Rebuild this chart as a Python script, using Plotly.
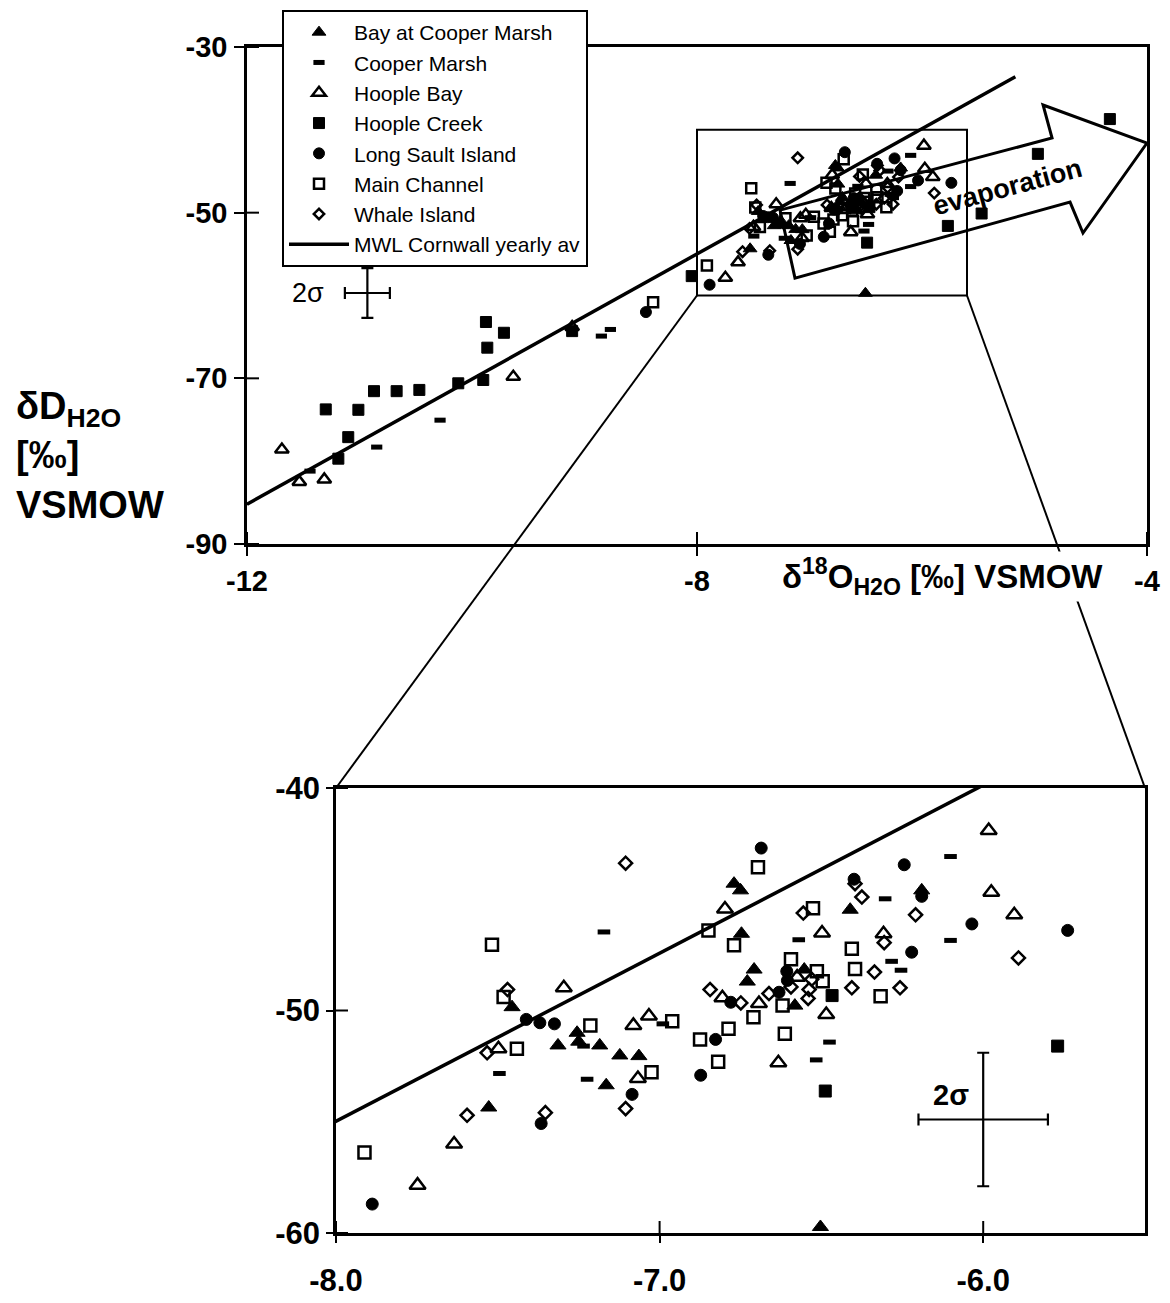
import plotly.graph_objects as go

# ---------------------------------------------------------------
# Stable isotope composition of water samples (permil, VSMOW)
# x = delta 18O, y = delta D
# ---------------------------------------------------------------
bay_cooper_x = [-6.77, -6.75, -6.747, -7.456, -7.255, -7.25, -7.314, -7.185, -7.123, -7.064,
                -7.165, -7.528, -6.411, -6.19, -6.708, -6.729, -6.553, -6.582, -6.503]
bay_cooper_y = [-44.3, -44.6, -46.55, -49.85, -51.0, -51.4, -51.57, -51.57, -52.02, -52.05,
                -53.36, -54.36, -45.47, -44.6, -48.16, -48.7, -48.16, -49.78, -59.73]

cooper_marsh_x = [-11.44, -10.847, -10.284, -8.85, -8.77, -7.172, -7.235, -6.99, -7.495, -7.224,
                  -6.57, -6.303, -6.101, -6.101, -6.283, -6.254, -6.475, -6.516]
cooper_marsh_y = [-81.2, -78.3, -75.05, -64.9, -64.1, -46.47, -51.6, -50.6, -52.83, -53.09,
                  -46.82, -44.98, -43.08, -46.85, -47.79, -48.19, -51.42, -52.22]

hoople_bay_x = [-11.69, -11.535, -11.313, -9.633, -9.11, -6.798, -7.296, -7.081, -7.033, -7.498,
                -7.067, -7.635, -7.748, -6.806, -6.498, -5.983, -5.975, -5.904, -6.308, -6.485,
                -6.633, -6.693, -6.575]
hoople_bay_y = [-78.6, -82.5, -82.2, -69.8, -63.8, -45.44, -48.98, -50.67, -50.25, -51.72,
                -53.06, -56.0, -57.85, -49.43, -46.52, -41.91, -44.69, -45.7, -46.55, -50.18,
                -52.35, -49.69, -48.5]

hoople_creek_x = [-11.188, -11.10, -11.30, -11.01, -10.871, -10.67, -10.468, -10.122, -9.9, -9.876,
                  -9.716, -9.864, -9.11, -8.047, -5.47, -4.97, -4.33, -6.467, -6.488, -5.77]
hoople_creek_y = [-79.7, -77.1, -73.75, -73.8, -71.55, -71.55, -71.4, -70.6, -70.2, -63.2,
                  -64.5, -66.3, -64.3, -57.66, -50.1, -42.9, -38.7, -49.33, -53.62, -51.6]

long_sault_x = [-8.454, -7.412, -7.37, -7.325, -7.085, -7.366, -7.888, -6.827, -6.873, -6.78,
                -6.686, -6.399, -6.19, -6.244, -6.035, -5.739, -6.221, -6.607, -6.605, -6.631]
long_sault_y = [-62.0, -50.4, -50.55, -50.6, -53.77, -55.08, -58.7, -51.3, -52.91, -49.63,
                -42.7, -44.1, -44.87, -43.45, -46.11, -46.4, -47.38, -48.24, -48.65, -49.18]

main_channel_x = [-8.39, -6.849, -6.77, -7.518, -7.482, -7.214, -6.961, -7.441, -7.025, -7.912,
                  -6.875, -6.787, -6.819, -6.71, -6.696, -6.526, -6.406, -6.396, -6.317, -6.613,
                  -6.594, -6.514, -6.496, -6.62]
main_channel_y = [-60.8, -46.4, -47.07, -47.04, -49.39, -50.67, -50.48, -51.72, -52.77, -56.38,
                  -51.3, -50.82, -52.3, -50.3, -43.56, -45.4, -47.23, -48.13, -49.36, -51.05,
                  -47.7, -48.24, -48.69, -49.78]

whale_x = [-7.105, -7.47, -7.533, -7.105, -7.353, -7.595, -6.844, -6.749, -6.556, -6.396,
           -6.375, -6.209, -5.891, -6.306, -6.257, -6.336, -6.406, -6.53, -6.594, -6.538,
           -6.541, -6.662]
whale_y = [-43.38, -49.06, -51.9, -54.41, -54.59, -54.71, -49.06, -49.66, -45.62, -44.3,
           -44.9, -45.7, -47.64, -46.95, -48.98, -48.27, -48.98, -48.6, -48.94, -49.06,
           -49.46, -49.24]

# Meteoric water line, Cornwall yearly average (end points)
mwl_x = [-12.0, -5.17]
mwl_y = [-85.2, -33.6]

# analytical uncertainty (2 sigma)
sigma_o18 = 0.2
sigma_d = 3.0

# axis ticks
top_xticks = [-12, -8, -4]
top_xtext = ["-12", "-8", "-4"]
top_yticks = [-90, -70, -50, -30]
top_ytext = ["-90", "-70", "-50", "-30"]
bot_xticks = [-8.0, -7.0, -6.0]
bot_xtext = ["-8.0", "-7.0", "-6.0"]
bot_yticks = [-60, -50, -40]
bot_ytext = ["-60", "-50", "-40"]

# ---------------------------------------------------------------
W, H = 1170, 1303
FONT = "Liberation Sans, Arial, Helvetica, sans-serif"

TOP_XDOM = [247 / W, 1147 / W]
TOP_YDOM = [1 - 544 / H, 1 - 47 / H]
BOT_XDOM = [336 / W, 1145 / W]
BOT_YDOM = [1 - 1233 / H, 1 - 788 / H]
TOP_XR, TOP_YR = [-12, -4], [-90, -30]
BOT_XR, BOT_YR = [-8, -5.5], [-60, -40]
ZOOM_X, ZOOM_Y = [-8.0, -5.6], [-60, -40]

series = [
    ("Bay at Cooper Marsh", bay_cooper_x, bay_cooper_y, "triangle-up", 12, 14),
    ("Cooper Marsh", cooper_marsh_x, cooper_marsh_y, "line-ew", 8, 9),
    ("Hoople Bay", hoople_bay_x, hoople_bay_y, "triangle-up-open", 12, 14),
    ("Hoople Creek", hoople_creek_x, hoople_creek_y, "square", 11, 12),
    ("Long Sault Island", long_sault_x, long_sault_y, "circle", 11, 12),
    ("Main Channel", main_channel_x, main_channel_y, "square-open", 10, 12),
    ("Whale Island", whale_x, whale_y, "diamond-open", 8, 10),
]


def marker_style(symbol, size):
    if symbol == "line-ew":
        return dict(symbol=symbol, size=size, color="black",
                    line=dict(color="black", width=5))
    if symbol.endswith("-open"):
        return dict(symbol=symbol, size=size, color="black",
                    line=dict(color="black", width=2.5))
    return dict(symbol=symbol, size=size, color="black",
                line=dict(color="black", width=1))


fig = go.Figure()

for name, xs, ys, sym, s_top, s_bot in series:
    fig.add_trace(go.Scatter(x=xs, y=ys, mode="markers", name=name, legendgroup=name,
                             marker=marker_style(sym, s_top), xaxis="x", yaxis="y",
                             cliponaxis=True))
    fig.add_trace(go.Scatter(x=xs, y=ys, mode="markers", name=name, legendgroup=name,
                             showlegend=False, marker=marker_style(sym, s_bot),
                             xaxis="x2", yaxis="y2", cliponaxis=True))

fig.add_trace(go.Scatter(x=mwl_x, y=mwl_y, mode="lines", name="MWL Cornwall yearly av",
                         line=dict(color="black", width=3.5), xaxis="x", yaxis="y"))
fig.add_trace(go.Scatter(x=mwl_x, y=mwl_y, mode="lines", showlegend=False,
                         line=dict(color="black", width=3.5), xaxis="x2", yaxis="y2"))

# 2-sigma error crosses
for (cx, cy, xa, ya, cap) in [(-10.93, -59.7, "x", "y", 6), (-6.0, -54.9, "x2", "y2", 6)]:
    fig.add_trace(go.Scatter(
        x=[cx], y=[cy], mode="markers", showlegend=False, hoverinfo="skip",
        marker=dict(size=1, color="black"), xaxis=xa, yaxis=ya,
        error_x=dict(type="constant", value=sigma_o18, color="black", thickness=2.2, width=cap),
        error_y=dict(type="constant", value=sigma_d, color="black", thickness=2.2, width=cap)))

shapes = []

# zoom window on the overview plot
shapes.append(dict(type="rect", xref="x", yref="y", x0=ZOOM_X[0], x1=ZOOM_X[1],
                   y0=ZOOM_Y[0], y1=ZOOM_Y[1], line=dict(color="black", width=2)))


def to_paper(v, rng, dom):
    return dom[0] + (v - rng[0]) / (rng[1] - rng[0]) * (dom[1] - dom[0])


# connector lines from the zoom window to the enlarged plot
for zx, bx in [(ZOOM_X[0], BOT_XDOM[0]), (ZOOM_X[1], BOT_XDOM[1])]:
    shapes.append(dict(type="line", xref="paper", yref="paper",
                       x0=to_paper(zx, TOP_XR, TOP_XDOM), y0=to_paper(ZOOM_Y[0], TOP_YR, TOP_YDOM),
                       x1=bx, y1=BOT_YDOM[1], line=dict(color="black", width=2)))

# evaporation arrow
arrow = [(-7.262, -49.69), (-4.844, -40.99), (-4.924, -37.0), (-4.0, -41.59),
         (-4.569, -52.46), (-4.684, -48.72), (-7.129, -57.9)]
path = "M " + " L ".join(f"{x},{y}" for x, y in arrow) + " Z"
shapes.append(dict(type="path", xref="x", yref="y", path=path,
                   line=dict(color="black", width=3)))


# tick marks crossing the axis line (inner half)
def inner_ticks(xref, yref, xticks, yticks, fx, fy):
    out = []
    for t in xticks:
        out.append(dict(type="line", xref=xref, yref=yref + " domain", x0=t, x1=t,
                         y0=0, y1=fy, line=dict(color="black", width=2)))
    for t in yticks:
        out.append(dict(type="line", xref=xref + " domain", yref=yref, x0=0, x1=fx,
                         y0=t, y1=t, line=dict(color="black", width=2)))
    return out


shapes += inner_ticks("x", "y", top_xticks, top_yticks, 12 / 900, 12 / 497)
shapes += inner_ticks("x2", "y2", bot_xticks, bot_yticks, 12 / 809, 12 / 445)

annotations = [
    dict(text="evaporation", xref="x", yref="y", x=-5.236, y=-46.9, showarrow=False,
         textangle=-15, font=dict(family=FONT, size=27, color="black", weight="bold")),
    dict(text="2σ", xref="x", yref="y", x=-11.46, y=-59.7, showarrow=False,
         font=dict(family=FONT, size=27, color="black")),
    dict(text="2σ", xref="x2", yref="y2", x=-6.10, y=-53.8, showarrow=False,
         font=dict(family=FONT, size=29, color="black", weight="bold")),
    dict(text="δ<sup>18</sup>O<sub>H2O</sub> [‰] VSMOW", xref="paper", yref="paper",
         x=942 / W, y=1 - 576 / H, xanchor="center", yanchor="middle",
         showarrow=False, bgcolor="white",
         font=dict(family=FONT, size=33, color="black", weight="bold")),
    dict(text="δD<sub>H2O</sub><br>[‰]<br>VSMOW", xref="paper", yref="paper",
         x=14 / W, y=1 - 455 / H, xanchor="left", yanchor="middle", align="left",
         showarrow=False, font=dict(family=FONT, size=38, color="black", weight="bold")),
]


def axis(dom, rng, vals, text, anchor, size, ticklen, standoff):
    return dict(domain=dom, range=rng, anchor=anchor, showline=True, mirror=True,
                linecolor="black", linewidth=2.5, ticks="outside", ticklen=ticklen,
                tickwidth=2, tickcolor="black", tickvals=vals, ticktext=text,
                tickfont=dict(family=FONT, size=size, color="black", weight="bold"),
                ticklabelstandoff=standoff, showgrid=False, zeroline=False,
                automargin=False)


fig.update_layout(
    width=W, height=H, margin=dict(l=0, r=0, t=0, b=0, autoexpand=False),
    paper_bgcolor="white", plot_bgcolor="white",
    xaxis=axis(TOP_XDOM, TOP_XR, top_xticks, top_xtext, "y", 29, 9, 0),
    yaxis=axis(TOP_YDOM, TOP_YR, top_yticks, top_ytext, "x", 29, 10, 1),
    xaxis2=axis(BOT_XDOM, BOT_XR, bot_xticks, bot_xtext, "y2", 31, 7, 11),
    yaxis2=axis(BOT_YDOM, BOT_YR, bot_yticks, bot_ytext, "x2", 31, 7, 0),
    shapes=shapes, annotations=annotations,
    legend=dict(x=282 / W, y=1 - 10 / H, xanchor="left", yanchor="top",
                bgcolor="white", bordercolor="black", borderwidth=2,
                font=dict(family=FONT, size=21, color="black"),
                itemwidth=60, tracegroupgap=0),
    showlegend=True,
)

fig.write_html("out.html")
